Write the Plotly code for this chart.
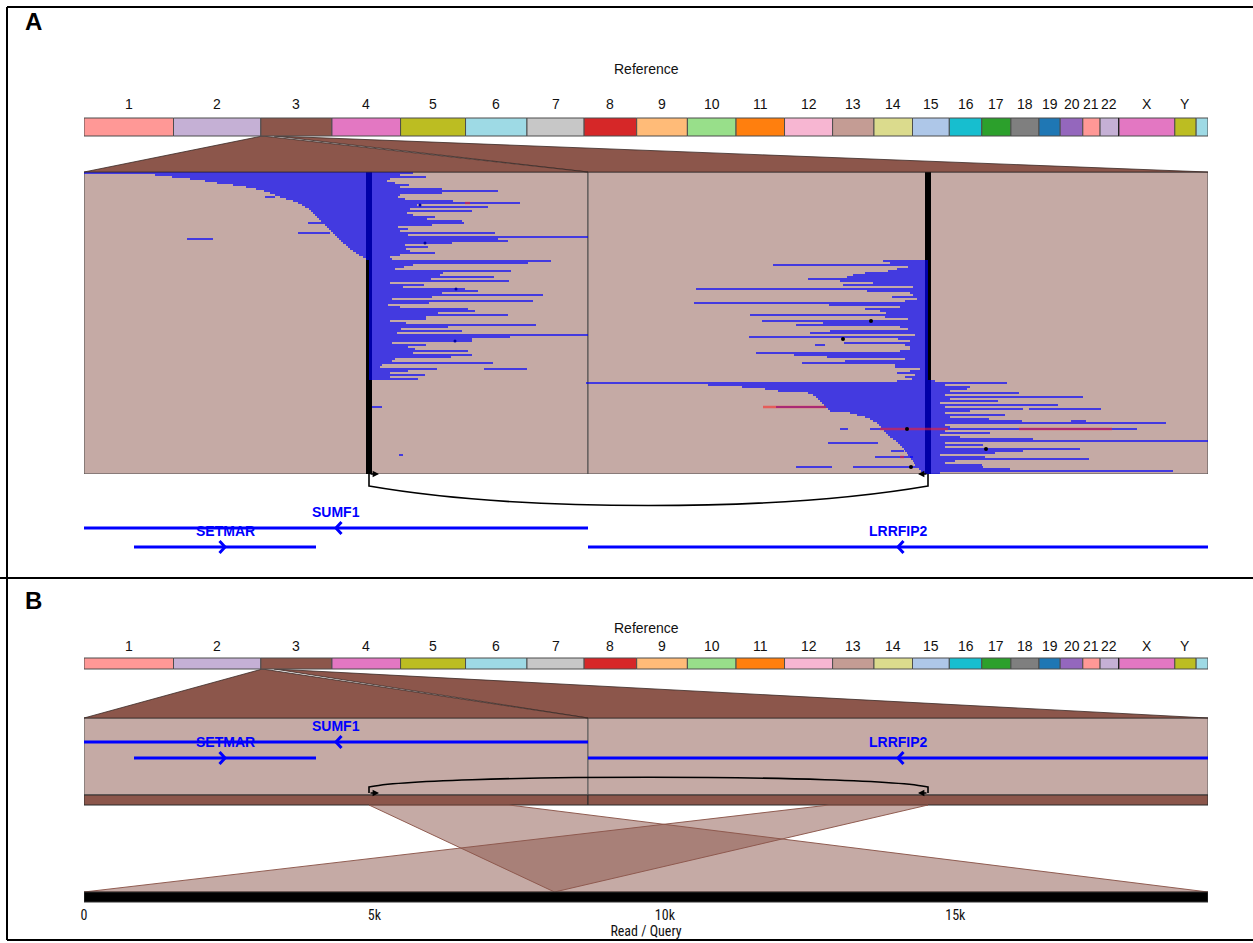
import plotly.graph_objects as go

W, H = 1253, 943

# ---------------- data ----------------
CHROM_NAMES = ['1', '2', '3', '4', '5', '6', '7', '8', '9', '10', '11', '12', '13', '14',
               '15', '16', '17', '18', '19', '20', '21', '22', '', 'X', 'Y', '']
CHROM_LEN_MB = [249.25, 243.2, 198.0, 191.15, 180.9, 171.1, 159.1, 146.4, 141.2, 135.5,
                135.0, 133.9, 115.2, 107.3, 102.5, 90.4, 81.2, 78.1, 59.1, 63.0, 48.1,
                51.3, 1.5, 155.3, 59.4, 33.0]
CHROM_COLORS = ['#ff9896', '#c5b0d5', '#8c564b', '#e377c2', '#bcbd22', '#9edae5', '#c7c7c7',
                '#d62728', '#ffbb78', '#98df8a', '#ff7f0e', '#f7b6d2', '#c49c94', '#dbdb8d',
                '#aec7e8', '#17becf', '#2ca02c', '#7f7f7f', '#1f77b4', '#9467bd', '#ff9896',
                '#c5b0d5', '#000000', '#e377c2', '#bcbd22', '#9edae5']

REGION_CHROM_INDEX = 2            # chr3
REGION_START_MB = [4.335, 37.120]
REGION_LEN_KB = [50.4, 62.0]
BREAKPOINT_KB = [28.5, 34.0]      # breakpoint in region 0 and region 1

GENE_NAMES = ['SUMF1', 'SETMAR', 'LRRFIP2']
GENE_REGION = [0, 0, 1]
GENE_START_KB = [-120.0, 5.0, -60.0]
GENE_END_KB = [150.0, 23.2, 80.0]
GENE_STRAND = ['-', '+', '-']
GENE_LANE = [0, 1, 1]

# reads: left wedge (region 0), rows 0..43
LW_START = [0.0, 7.1, 8.8, 10.6, 12.1, 13.3, 14.9, 16.2, 17.2, 18.0, 18.6, 19.1, 19.6, 20.2,
            20.9, 21.4, 21.8, 22.1, 22.5, 22.7, 22.9, 23.1, 23.3, 23.5, 23.7, 23.9, 24.1, 24.3,
            24.5, 24.7, 24.9, 25.1, 25.3, 25.5, 25.7, 25.9, 26.2, 26.4, 26.6, 26.9, 27.2, 27.5,
            27.9, 28.2]
LW_END = [32.9, 31.6, 34.2, 30.6, 30.3, 31.1, 32.5, 31.6, 35.8, 41.4, 35.8, 31.6, 31.4, 32.1,
          36.9, 43.6, 33.3, 40.4, 32.6, 38.8, 32.3, 32.9, 35.1, 34.3, 37.8, 38.0, 34.8, 31.4,
          32.4, 31.6, 41.1, 32.4, 50.4, 41.4, 42.4, 36.8, 32.1, 34.4, 32.2, 32.6, 35.1, 31.6,
          30.6, 30.8]
# split reads, rows 44..103: region-0 part ends, region-1 part starts
SPLIT_R1_END = [46.7, 44.4, 32.9, 32.0, 31.1, 42.7, 35.9, 35.6, 41.0, 34.7, 42.5, 30.6, 34.0,
                31.9, 38.1, 39.4, 35.8, 45.9, 34.8, 30.8, 44.9, 34.5, 30.4, 31.6, 38.4, 39.1,
                35.4, 42.4, 34.2, 34.2, 30.6, 32.2, 45.2, 36.4, 31.7, 37.8, 31.3, 50.4, 42.6,
                38.8, 38.8, 30.8, 34.2, 32.4, 33.1, 38.4, 32.9, 38.8, 36.7, 31.1, 30.8, 40.9,
                29.8, 29.6, 35.3, 32.4, 30.6, 34.1, 30.6, 33.4]
SPLIT_R2_START = [29.5, 30.2, 18.5, 32.0, 30.9, 30.0, 27.7, 26.5, 25.9, 22.0, 25.2, 28.5, 25.5,
                  32.5, 10.8, 27.9, 32.2, 32.5, 30.4, 32.9, 31.7, 10.6, 24.1, 31.2, 27.7, 29.2,
                  29.8, 16.2, 29.7, 32.0, 17.4, 23.5, 20.8, 31.2, 32.0, 24.2, 22.2, 32.7, 16.1,
                  31.0, 32.2, 25.6, 31.7, 32.2, 32.2, 31.2, 16.8, 20.6, 23.9, 31.7, 25.7, 21.4,
                  30.7, 30.7, 33.2, 32.2, 30.9, 32.7, 31.7, 32.4]
# right wedge (region 1), rows 104..150
RW_START = [30.9, 0.0, 12.0, 15.4, 17.7, 19.0, 22.0, 22.5, 22.8, 23.0, 23.2, 23.4, 23.6, 23.8,
            24.0, 24.2, 26.2, 26.9, 27.7, 28.2, 28.5, 28.9, 29.1, 29.3, 29.4, 29.6, 29.8, 30.0,
            30.2, 30.5, 30.8, 31.0, 31.2, 31.4, 31.6, 31.7, 31.9, 32.0, 32.2, 32.3, 32.5, 32.6,
            32.7, 32.9, 33.1, 33.3, 33.6]
RW_END = [34.7, 41.9, 35.7, 38.2, 37.9, 36.2, 43.1, 35.7, 49.5, 36.2, 41.0, 35.2, 47.0, 35.7,
          43.5, 38.2, 35.7, 41.7, 36.2, 40.1, 43.4, 57.8, 35.7, 36.2, 54.9, 35.7, 40.2, 35.2,
          37.2, 44.5, 62.0, 35.7, 39.5, 35.7, 49.2, 43.5, 40.7, 35.2, 39.7, 50.1, 36.7, 35.7,
          39.4, 39.5, 42.2, 58.5, 35.2]
# additional alignments: (row, region, start_kb, end_kb)
EXTRA_SEGS = [(12, 0, 18.1, 19.1), (25, 0, 22.4, 23.9), (30, 0, 21.4, 24.6), (33, 0, 10.3, 12.9),
              (98, 0, 40.0, 44.3), (117, 0, 28.8, 29.8), (141, 0, 31.5, 31.9), (105, 0, 50.2, 50.4),
              (86, 1, 22.7, 23.7), (118, 1, 44.1, 51.3), (124, 1, 48.3, 49.8), (128, 1, 25.2, 26.0),
              (128, 1, 28.2, 29.4), (135, 1, 24.0, 29.0), (139, 1, 30.3, 31.6), (142, 1, 28.7, 32.5),
              (147, 1, 20.8, 24.4), (147, 1, 26.5, 32.9), (117, 1, 18.8, 23.8)]
MISMATCH_SEGS = [(15, 0, 38.1, 38.6), (117, 1, 17.5, 23.8), (128, 1, 29.2, 36.0),
                 (128, 1, 43.1, 52.4), (142, 1, 31.2, 31.6)]
INSERTION_DOTS = [(74, 1, 28.3), (83, 1, 25.5), (128, 1, 31.9), (138, 1, 39.8), (147, 1, 32.3)]
SMALL_DOTS = [(16, 0, 33.6), (35, 0, 34.1), (58, 0, 37.2), (84, 0, 37.1)]

# panel B: read / query alignments (query_start, query_end, region, ref_start_kb, ref_end_kb)
QUERY_LEN = 19350
ALIGNMENTS = [(0, 8100, 1, 24.1, 34.0), (8100, 19350, 0, 28.5, 42.5)]
QUERY_TICKS = [0, 5000, 10000, 15000]
QUERY_TICK_TEXT = ['0', '5k', '10k', '15k']

# ---------------- layout constants (pixels) ----------------
XD = [84 / W, 1208 / W]
A_TITLE_Y, A_LABEL_Y, A_BAR = 69, 104, (118, 136)
A_BOX = (172, 474)
A_GENE_Y = [528, 547]
B_TITLE_Y, B_LABEL_Y, B_BAR = 628, 646, (658, 669)
B_BOX, B_STRIP = (718, 795), (795, 805)
B_GENE_Y = [742, 758]
Q_BAR = (892, 902)

FONT = 'Liberation Sans, Arial, sans-serif'
NARROW = 'Liberation Sans Narrow, Roboto Condensed, Liberation Sans, sans-serif'
BROWN = '#8c564b'
LIGHT_BROWN = '#c5aaa5'

G_TOTAL = sum(CHROM_LEN_MB)
CHROM_START = []
acc = 0.0
for L in CHROM_LEN_MB:
    CHROM_START.append(acc)
    acc += L
Z_TOTAL = sum(REGION_LEN_KB)
REGION_OFFSET = [0.0, REGION_LEN_KB[0]]
N_ROWS = len(LW_START) + len(SPLIT_R1_END) + len(RW_START)
ROW_PX = (A_BOX[1] - A_BOX[0]) / N_ROWS


def zc(region, kb):
    kb = max(0.0, min(REGION_LEN_KB[region], kb))
    return REGION_OFFSET[region] + kb


def g2z(mb):
    return mb / G_TOTAL * Z_TOTAL


def q2z(q):
    return q / QUERY_LEN * Z_TOTAL


fig = go.Figure()
shapes = []
annots = []

# ---------- chromosome bars (both panels) ----------
for (y0, y1), ty, ly in [(A_BAR, A_TITLE_Y, A_LABEL_Y), (B_BAR, B_TITLE_Y, B_LABEL_Y)]:
    for name, s, L, c in zip(CHROM_NAMES, CHROM_START, CHROM_LEN_MB, CHROM_COLORS):
        shapes.append(dict(type='rect', xref='x', yref='y2', x0=s, x1=s + L, y0=y0, y1=y1,
                           fillcolor=c, line=dict(color='#4d4d4d' if c != '#000000' else '#000', width=1)))
        if name:
            annots.append(dict(x=s + L / 2, y=ly, xref='x', yref='y2', text=name, showarrow=False,
                               font=dict(family=FONT, size=14, color='#111')))
    annots.append(dict(x=G_TOTAL / 2, y=ty, xref='x', yref='y2', text='Reference', showarrow=False,
                       font=dict(family=FONT, size=14, color='#111')))

# ---------- trapezoids from chr3 to the zoomed regions ----------
for bar, box_top in [(A_BAR, A_BOX[0]), (B_BAR, B_BOX[0])]:
    for r in [1, 0]:
        gs = CHROM_START[REGION_CHROM_INDEX] + REGION_START_MB[r]
        ge = gs + REGION_LEN_KB[r] / 1000.0
        xs = [g2z(gs), g2z(ge), zc(r, REGION_LEN_KB[r]), zc(r, 0), g2z(gs)]
        ys = [bar[1], bar[1], box_top, box_top, bar[1]]
        fig.add_trace(go.Scatter(x=xs, y=ys, xaxis='x2', yaxis='y2', mode='lines', fill='toself',
                                 fillcolor=BROWN, line=dict(color='#3a2a26', width=0.8),
                                 hoverinfo='skip'))

# ---------- panel A boxes and breakpoint bars (on the read axis, beneath reads) ----------
for r in range(2):
    shapes.append(dict(type='rect', xref='x2', yref='y', x0=zc(r, 0), x1=zc(r, REGION_LEN_KB[r]),
                       y0=-0.5, y1=N_ROWS - 0.5, fillcolor=LIGHT_BROWN,
                       line=dict(color='#4d4d4d', width=1), layer='below'))
for r in range(2):
    bx = zc(r, BREAKPOINT_KB[r])
    shapes.append(dict(type='rect', xref='x2', yref='y', x0=bx - 0.3, x1=bx + 0.3,
                       y0=-0.5 - 2 / ROW_PX, y1=N_ROWS - 0.5 + 3 / ROW_PX, fillcolor='black',
                       line=dict(width=0), layer='below'))

# ---------- reads ----------
segs = []
for i, (s, e) in enumerate(zip(LW_START, LW_END)):
    segs.append((i, 0, s, e))
base = len(LW_START)
for i, (e1, s2) in enumerate(zip(SPLIT_R1_END, SPLIT_R2_START)):
    segs.append((base + i, 0, BREAKPOINT_KB[0], e1))
    segs.append((base + i, 1, s2, BREAKPOINT_KB[1]))
base2 = base + len(SPLIT_R1_END)
for i, (s, e) in enumerate(zip(RW_START, RW_END)):
    segs.append((base2 + i, 1, s, e))
segs += EXTRA_SEGS


def seg_xy(seglist):
    xs, ys = [], []
    for row, reg, s, e in seglist:
        xs += [zc(reg, s), zc(reg, e), None]
        ys += [row, row, None]
    return xs, ys


rx, ry = seg_xy(segs)
fig.add_trace(go.Scatter(x=rx, y=ry, xaxis='x2', yaxis='y', mode='lines',
                         line=dict(color='rgba(0,0,255,0.66)', width=2.0), hoverinfo='skip'))
mx, my = seg_xy(MISMATCH_SEGS)
fig.add_trace(go.Scatter(x=mx, y=my, xaxis='x2', yaxis='y', mode='lines',
                         line=dict(color='rgba(255,30,30,0.55)', width=2.4), hoverinfo='skip'))
fig.add_trace(go.Scatter(x=[zc(r, k) for _, r, k in SMALL_DOTS], y=[row for row, _, _ in SMALL_DOTS],
                         xaxis='x2', yaxis='y', mode='markers',
                         marker=dict(color='#0000a0', size=3), hoverinfo='skip'))
fig.add_trace(go.Scatter(x=[zc(r, k) for _, r, k in INSERTION_DOTS], y=[row for row, _, _ in INSERTION_DOTS],
                         xaxis='x2', yaxis='y', mode='markers',
                         marker=dict(color='black', size=4), hoverinfo='skip'))

# ---------- breakpoint arcs and direction arrows ----------
a = zc(0, BREAKPOINT_KB[0])
b = zc(1, BREAKPOINT_KB[1])
d = b - a
shapes.append(dict(type='path', xref='x2', yref='y2',
                   path=f'M {a},{A_BOX[1]} L {a},{A_BOX[1] + 12} C {a + 0.27 * d},{A_BOX[1] + 38} '
                        f'{b - 0.27 * d},{A_BOX[1] + 38} {b},{A_BOX[1] + 12} L {b},{A_BOX[1]}',
                   line=dict(color='black', width=1.6)))
yb = B_STRIP[0] - 2
shapes.append(dict(type='path', xref='x2', yref='y2',
                   path=f'M {a},{yb} L {a},{yb - 6} C {a + 0.1 * d},{yb - 19} '
                        f'{b - 0.1 * d},{yb - 19} {b},{yb - 6} L {b},{yb}',
                   line=dict(color='black', width=1.6)))
for yy in [A_BOX[1], yb]:
    for tail, head in [(a, a + 1.0), (b, b - 1.0)]:
        annots.append(dict(x=head, y=yy, xref='x2', yref='y2', ax=tail, ay=yy, axref='x2',
                           ayref='y2', text='', showarrow=True, arrowhead=2, arrowsize=0.8,
                           arrowwidth=1.6, arrowcolor='black', standoff=0, startstandoff=0))

# ---------- panel B boxes ----------
for r in range(2):
    shapes.append(dict(type='rect', xref='x2', yref='y2', x0=zc(r, 0), x1=zc(r, REGION_LEN_KB[r]),
                       y0=B_BOX[0], y1=B_BOX[1], fillcolor=LIGHT_BROWN,
                       line=dict(color='#5a5a5a', width=1), layer='below'))
    shapes.append(dict(type='rect', xref='x2', yref='y2', x0=zc(r, 0), x1=zc(r, REGION_LEN_KB[r]),
                       y0=B_STRIP[0], y1=B_STRIP[1], fillcolor=BROWN,
                       line=dict(color='#2a2a2a', width=1), layer='below'))

# ---------- genes (both panels) ----------
for lanes in [A_GENE_Y, B_GENE_Y]:
    for name, reg, s, e, strand, lane in zip(GENE_NAMES, GENE_REGION, GENE_START_KB, GENE_END_KB,
                                             GENE_STRAND, GENE_LANE):
        x0, x1 = zc(reg, s), zc(reg, e)
        y = lanes[lane]
        shapes.append(dict(type='line', xref='x2', yref='y2', x0=x0, x1=x1, y0=y, y1=y,
                           line=dict(color='#0000ff', width=3)))
        m = (x0 + x1) / 2
        dx = 0.55 if strand == '-' else -0.55
        shapes.append(dict(type='path', xref='x2', yref='y2',
                           path=f'M {m + dx},{y - 6} L {m},{y} L {m + dx},{y + 6}',
                           line=dict(color='#0000ff', width=3)))
        annots.append(dict(x=m, y=y - 16, xref='x2', yref='y2', text=f'<b>{name}</b>', showarrow=False,
                           font=dict(family=FONT, size=14, color='#0000ff')))

# ---------- panel B read alignments ----------
for q0, q1, reg, r0, r1 in ALIGNMENTS:
    xs = [zc(reg, r0), zc(reg, r1), q2z(q1), q2z(q0), zc(reg, r0)]
    ys = [B_STRIP[1], B_STRIP[1], Q_BAR[0], Q_BAR[0], B_STRIP[1]]
    fig.add_trace(go.Scatter(x=xs, y=ys, xaxis='x2', yaxis='y2', mode='lines', fill='toself',
                             fillcolor='rgba(140,86,75,0.5)', line=dict(color='rgba(140,86,75,0.95)', width=1),
                             hoverinfo='skip'))
shapes.append(dict(type='rect', xref='x3', yref='y2', x0=0, x1=QUERY_LEN, y0=Q_BAR[0], y1=Q_BAR[1],
                   fillcolor='black', line=dict(color='#333', width=1)))
fig.add_trace(go.Scatter(x=[0, QUERY_LEN], y=[None, None], xaxis='x3', yaxis='y2', mode='markers',
                         hoverinfo='skip'))
fig.add_trace(go.Scatter(x=[0, G_TOTAL], y=[None, None], xaxis='x', yaxis='y2', mode='markers',
                         hoverinfo='skip'))

# ---------- frame and panel letters ----------
for x0, y0, x1, y1 in [(7, 7, 1253, 7), (7, 7, 7, 940), (0, 578, 1253, 578), (7, 940, 1253, 940)]:
    shapes.append(dict(type='line', xref='paper', yref='paper', x0=x0 / W, x1=x1 / W,
                       y0=1 - y0 / H, y1=1 - y1 / H, line=dict(color='black', width=2)))
for letter, yy in [('A', 22), ('B', 600)]:
    annots.append(dict(x=33 / W, y=1 - yy / H, xref='paper', yref='paper', text=f'<b>{letter}</b>',
                       xanchor='center', yanchor='middle', showarrow=False,
                       font=dict(family=FONT, size=24, color='black')))

fig.update_layout(
    width=W, height=H, margin=dict(l=0, r=0, t=0, b=0, pad=0, autoexpand=False),
    paper_bgcolor='white', plot_bgcolor='rgba(0,0,0,0)', showlegend=False,
    shapes=shapes, annotations=annots,
    xaxis=dict(domain=XD, range=[0, G_TOTAL], visible=False, anchor='y2'),
    xaxis2=dict(domain=XD, range=[0, Z_TOTAL], visible=False, anchor='y2'),
    xaxis3=dict(domain=XD, range=[0, QUERY_LEN], anchor='free', position=1 - (Q_BAR[1] + 3) / H,
                tickvals=QUERY_TICKS, ticktext=QUERY_TICK_TEXT, ticks='', showgrid=False,
                zeroline=False, showline=False, automargin=False,
                tickfont=dict(family=NARROW, size=14, color='#111'),
                title=dict(text='Read / Query', font=dict(family=NARROW, size=14, color='#111'),
                           standoff=4)),
    yaxis=dict(domain=[1 - A_BOX[1] / H, 1 - A_BOX[0] / H], range=[N_ROWS - 0.5, -0.5],
               visible=False, anchor='x2'),
    yaxis2=dict(domain=[0, 1], range=[H, 0], visible=False, anchor='x2'),
)

fig.write_html('out.html')
